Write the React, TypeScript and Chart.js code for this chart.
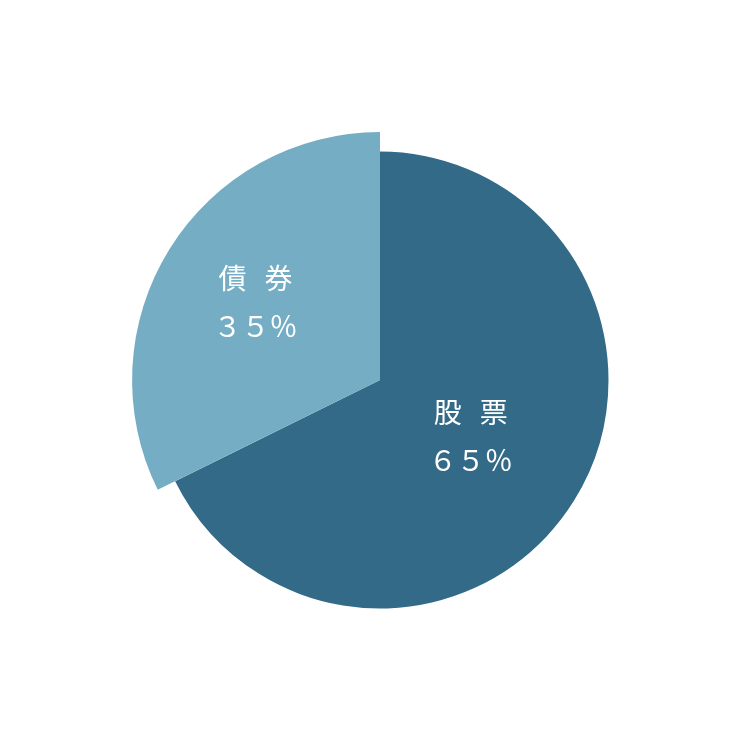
import { useEffect, useRef } from "react";
import { Chart, registerables } from "chart.js";

Chart.register(...registerables);

// slices, clockwise from 12 o'clock
const categories = ["股票", "債券"];
// angular share as drawn in the picture (the printed labels say 65 / 35)
const shares = [67.7, 32.3];
const percentLabels = ["６５％", "３５％"];
const colors = ["#336a88", "#74adc4"];

// the bond slice is drawn with a larger radius than the stock slice
const RAISED_INDEX = 1;
const RAISED_RATIO = 1.085;
// where each label block sits, as a fraction of the base radius
const LABEL_DIST = [0.467, 0.642];

const raiseSlice = {
  id: "raiseSlice",
  afterDatasetsUpdate(chart: Chart) {
    const meta = chart.getDatasetMeta(0);
    const base = meta.data[0] as any;
    const raised = meta.data[RAISED_INDEX] as any;
    if (base && raised) raised.outerRadius = base.outerRadius * RAISED_RATIO;
  },
};

const drawSpaced = (ctx: CanvasRenderingContext2D, text: string, cx: number, cy: number, gap: number) => {
  const chars = Array.from(text);
  const widths = chars.map((c) => ctx.measureText(c).width);
  const total = widths.reduce((a, b) => a + b, 0) + gap * (chars.length - 1);
  let x = cx - total / 2;
  chars.forEach((c, i) => {
    ctx.fillText(c, x, cy);
    x += widths[i] + gap;
  });
};

const sliceLabels = {
  id: "sliceLabels",
  afterDatasetsDraw(chart: Chart) {
    const { ctx } = chart;
    const meta = chart.getDatasetMeta(0);
    const baseR = (meta.data[0] as any).outerRadius;
    ctx.save();
    ctx.fillStyle = "#ffffff";
    ctx.font = '400 28px "Noto Sans CJK JP", "Noto Sans CJK SC", sans-serif';
    ctx.textAlign = "left";
    ctx.textBaseline = "middle";
    meta.data.forEach((el: any, i: number) => {
      const mid = (el.startAngle + el.endAngle) / 2;
      const d = baseR * LABEL_DIST[i];
      const cx = el.x + Math.cos(mid) * d;
      const cy = el.y + Math.sin(mid) * d;
      drawSpaced(ctx, categories[i], cx, cy - 24, 18);
      drawSpaced(ctx, percentLabels[i], cx, cy + 24, 0);
    });
    ctx.restore();
  },
};

function PieChart() {
  const chartRef = useRef<HTMLCanvasElement>(null);
  const chartInstance = useRef<Chart | null>(null);

  useEffect(() => {
    if (!chartRef.current) return;
    if (chartInstance.current) chartInstance.current.destroy();

    chartInstance.current = new Chart(chartRef.current, {
      type: "pie",
      data: {
        labels: categories,
        datasets: [
          {
            data: shares,
            backgroundColor: colors,
            borderWidth: 0,
            clip: false,
          } as any,
        ],
      },
      options: {
        responsive: true,
        maintainAspectRatio: false,
        animation: false,
        layout: { padding: { left: 151.5, right: 131.5, top: 151.5, bottom: 131.5 } },
        plugins: {
          legend: { display: false },
          tooltip: { enabled: false },
        },
      },
      plugins: [raiseSlice, sliceLabels],
    });

    return () => {
      if (chartInstance.current) {
        chartInstance.current.destroy();
        chartInstance.current = null;
      }
    };
  }, []);

  return (
    <div style={{ position: "fixed", left: 0, top: 0, width: 740, height: 740, background: "#ffffff" }}>
      <canvas ref={chartRef} />
    </div>
  );
}

export default function App() {
  return <PieChart />;
}
